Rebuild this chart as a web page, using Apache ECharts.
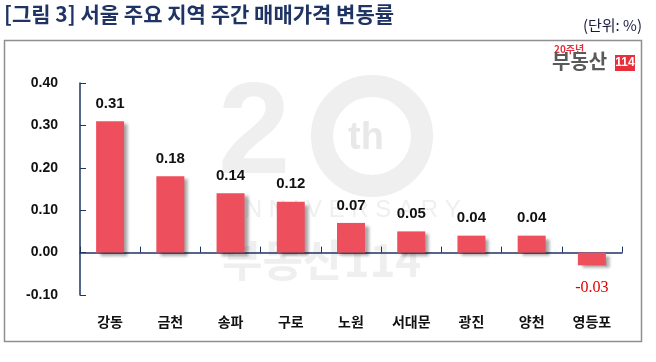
<!DOCTYPE html>
<html><head><meta charset="utf-8">
<script src="https://cdn.jsdelivr.net/npm/echarts@6/dist/echarts.min.js"></script>
<style>html,body{margin:0;padding:0;background:#fff}#c{width:656px;height:362px}</style>
</head><body><div id="c"></div>
<script>
var categories = ['강동','금천','송파','구로','노원','서대문','광진','양천','영등포'];
var values = [0.31, 0.18, 0.14, 0.12, 0.07, 0.05, 0.04, 0.04, -0.03];
var yMin = -0.10, yMax = 0.40, yStep = 0.10;
var titleText = '[그림 3] 서울 주요 지역 주간 매매가격 변동률';
var unitText = '(단위: %)';

var KR = '"Noto Sans CJK KR", "Noto Sans", sans-serif';
var NUM = '"Liberation Sans", Arial, sans-serif';
var navy = '#1F3464';
var chart = echarts.init(document.getElementById('c'), null, {renderer:'canvas'});
chart.setOption({
  animation:false,
  grid:{left:80, right:34, top:83, bottom:67, outerBoundsMode:'none'},
  graphic:[
    {type:'rect', z:-10, shape:{x:4.5,y:40.5,width:637,height:301}, style:{fill:'#fff', stroke:'#8f8f8f', lineWidth:1.5}},
    {type:'text', z:-5, left:4, top:4, style:{text:titleText, font:'bold 21px '+KR, fill:navy}},
    {type:'text', z:-5, right:14, top:18, style:{text:unitText, font:'15px '+KR, fill:'#1a1a3a'}},
    // watermark
    {type:'text', z:-5, x:218, y:72, style:{text:'2', font:'bold 130px '+NUM, fill:'#efefef'}},
    {type:'circle', z:-5, shape:{cx:372, cy:136, r:50}, style:{fill:'none', stroke:'#efefef', lineWidth:22}},
    {type:'text', z:-4, x:348, y:120, style:{text:'th', font:'bold 38px '+NUM, fill:'#e8e8e8'}},
    {type:'text', z:-5, x:222, y:198, style:{text:'A N N I V E R S A R Y', font:'24px '+NUM, fill:'#efefef'}},
    {type:'text', z:-5, x:222, y:238, style:{text:'부동산114', font:'bold 44px '+KR, fill:'#efefef'}},
    // logo
    {type:'text', z:-5, x:554, y:44, style:{text:'20주년', font:'bold 10px '+KR, fill:'#e8303a'}},
    {type:'text', z:-5, x:552, y:51, style:{text:'부동산', font:'bold 20px '+KR, fill:'#5a5a5a'}},
    {type:'rect', z:-5, shape:{x:615,y:55,width:20,height:16}, style:{fill:'#e8303a'}},
    {type:'text', z:-4, x:625, y:63, style:{text:'114', font:'bold 12px '+NUM, fill:'#fff', align:'center', verticalAlign:'middle'}}
  ],
  xAxis:{
    type:'category', data:categories,
    axisLine:{onZero:true, lineStyle:{color:navy, width:1.5}},
    axisTick:{show:true, inside:true, length:6, lineStyle:{color:navy}},
    axisLabel:{margin:20, color:'#111', fontFamily:KR, fontWeight:'bold', fontSize:14}
  },
  yAxis:{
    type:'value', min:yMin, max:yMax, interval:yStep,
    axisLine:{show:true, lineStyle:{color:navy, width:1.5}},
    axisTick:{show:true, inside:true, length:6, lineStyle:{color:navy}},
    splitLine:{show:false},
    axisLabel:{margin:22, color:'#111', fontFamily:NUM, fontWeight:'bold', fontSize:14, formatter:function(v){return v.toFixed(2);}}
  },
  series:[{
    type:'bar', barWidth:28,
    data: values.map(function(v){
      return v < 0 ? {value:v, label:{position:'bottom', distance:14, color:'#e00000', fontFamily:'"Liberation Serif", "Times New Roman", serif', fontWeight:'normal', fontSize:16}} : v;
    }),
    itemStyle:{color:'#EE4F5D', shadowColor:'rgba(0,0,0,0.35)', shadowBlur:3, shadowOffsetX:4, shadowOffsetY:3},
    label:{show:true, position:'top', distance:10, color:'#111', fontFamily:NUM, fontWeight:'bold', fontSize:15, formatter:function(p){return p.value.toFixed(2);}}
  }]
});
</script></body></html>
